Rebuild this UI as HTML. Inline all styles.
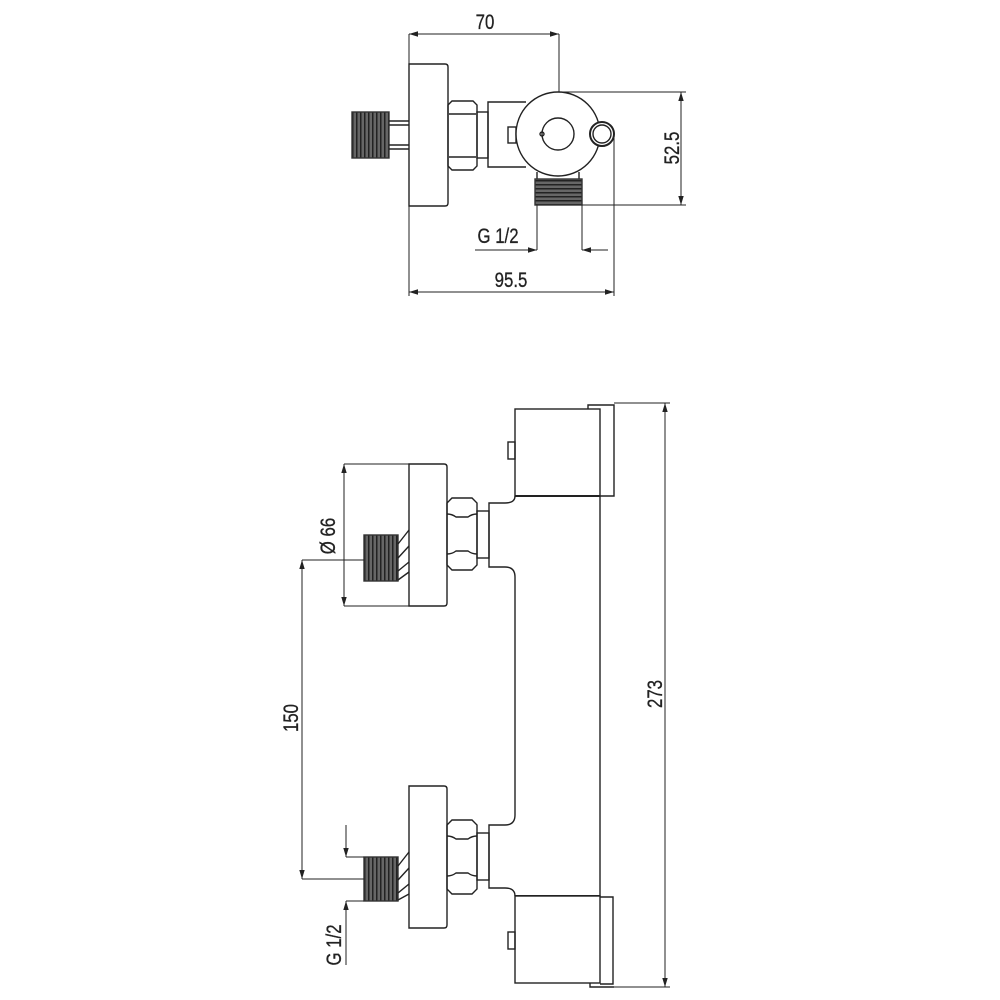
<!DOCTYPE html>
<html><head><meta charset="utf-8"><style>
html,body{margin:0;padding:0;background:#fff;}
svg{display:block;}
text{font-family:"Liberation Sans",sans-serif;font-size:21px;fill:#222;stroke:#222;stroke-width:0.3;}
</style></head><body>
<svg width="1000" height="1000" viewBox="0 0 1000 1000" xmlns="http://www.w3.org/2000/svg">
<defs>
<marker id="a" viewBox="0 0 10 10" refX="10" refY="5" markerWidth="9" markerHeight="9" orient="auto-start-reverse" markerUnits="userSpaceOnUse"><path d="M0,2 L10,5 L0,8 z" fill="#222"/></marker>
<pattern id="th" width="4" height="4" patternUnits="userSpaceOnUse"><rect width="4" height="4" fill="#666"/><rect width="1.5" height="4" fill="#222"/></pattern>
<pattern id="tv" width="4" height="4" patternUnits="userSpaceOnUse"><rect width="4" height="4" fill="#666"/><rect width="4" height="1.5" fill="#222"/></pattern>
</defs>
<g fill="none" stroke="#222" stroke-width="1.4">
<!-- TOP VIEW -->
<line x1="409" y1="34" x2="559" y2="34" marker-start="url(#a)" marker-end="url(#a)" stroke-width="1"/>
<line x1="409" y1="34" x2="409" y2="296" stroke-width="1"/>
<line x1="559" y1="34" x2="559" y2="134" stroke-width="1"/>
<path d="M409,64 H445 Q448,64 448,67 V203 Q448,206 445,206 H409 Z" fill="#fff"/>
<rect x="352" y="112" width="37" height="46" fill="url(#th)" stroke="#333"/>
<line x1="389" y1="121" x2="409" y2="121"/><line x1="389" y1="125" x2="409" y2="125"/>
<line x1="389" y1="145" x2="409" y2="145"/><line x1="389" y1="149" x2="409" y2="149"/>
<path d="M452,101 H473 L477,105 V166 L473,170 H452 L448,166 V105 Z"/>
<line x1="449" y1="114" x2="476" y2="114"/><line x1="449" y1="157" x2="476" y2="157"/>
<rect x="477" y="112" width="11" height="46"/>
<path d="M526,102 H488 V167 H526"/>
<rect x="508" y="127" width="8" height="16"/>
<circle cx="558" cy="134" r="42" fill="#fff"/>
<circle cx="558" cy="134" r="16"/>
<circle cx="542" cy="134" r="2"/>
<circle cx="602" cy="134" r="12" stroke-width="2" fill="#fff"/>
<circle cx="602" cy="134" r="9"/>
<line x1="537" y1="172" x2="537" y2="179"/><line x1="579" y1="172" x2="579" y2="179"/>
<rect x="535" y="179" width="47" height="26" fill="url(#tv)" stroke="#333"/>
<line x1="537" y1="205" x2="537" y2="250" stroke-width="1"/>
<line x1="582" y1="205" x2="582" y2="250" stroke-width="1"/>
<line x1="475" y1="250" x2="537" y2="250" marker-end="url(#a)" stroke-width="1"/>
<line x1="608" y1="250" x2="582" y2="250" marker-end="url(#a)" stroke-width="1"/>
<line x1="558" y1="92" x2="686" y2="92" stroke-width="1"/>
<line x1="582" y1="205" x2="686" y2="205" stroke-width="1"/>
<line x1="681" y1="92" x2="681" y2="205" marker-start="url(#a)" marker-end="url(#a)" stroke-width="1"/>
<line x1="614" y1="134" x2="614" y2="296" stroke-width="1"/>
<line x1="409" y1="292" x2="614" y2="292" marker-start="url(#a)" marker-end="url(#a)" stroke-width="1"/>

<!-- SIDE VIEW -->
<rect x="515" y="409" width="85" height="87" fill="#fff"/>
<path d="M588,409 V405 H614 V496 H600"/>
<rect x="508" y="442" width="7" height="17"/>
<path d="M515,496 Q515,503 505,503 H489 V567 H505 Q515,567 515,577 V815 Q515,825 505,825 H489 V888 H505 Q515,888 515,896"/>
<line x1="600" y1="496" x2="600" y2="897"/>
<line x1="515" y1="496" x2="600" y2="496" stroke-width="2"/>
<line x1="515" y1="896" x2="600" y2="896" stroke-width="2"/>
<rect x="515" y="896" width="85" height="87" fill="#fff"/>
<path d="M600,897 H613 V984 H600"/>
<path d="M590,983 V987 H614"/>
<rect x="508" y="932" width="7" height="17"/>
<path d="M409,464 H444 Q447,464 447,467 V603 Q447,606 444,606 H409 Z" fill="#fff"/>
<path d="M452,498 H472 L477,503 V565 L472,570 H452 L447,565 V503 Z"/>
<path d="M447,514 Q452,514 456,517 H468 Q472,514 477,514"/><path d="M447,554 Q452,554 456,551 H468 Q472,554 477,554"/>
<rect x="477" y="511" width="12" height="47"/>
<rect x="364" y="535" width="34" height="46" fill="url(#th)" stroke="#333"/>
<line x1="398" y1="544" x2="409" y2="530"/><line x1="398" y1="558" x2="409" y2="546"/>
<line x1="398" y1="571" x2="409" y2="562"/><line x1="398" y1="580" x2="409" y2="572"/>
<path d="M409,786 H444 Q447,786 447,789 V925 Q447,928 444,928 H409 Z" fill="#fff"/>
<path d="M452,820 H472 L477,825 V889 L472,894 H452 L447,889 V825 Z"/>
<path d="M447,836 Q452,836 456,839 H468 Q472,836 477,836"/><path d="M447,876 Q452,876 456,873 H468 Q472,876 477,876"/>
<rect x="477" y="833" width="12" height="47"/>
<rect x="364" y="857" width="34" height="44" fill="url(#th)" stroke="#333"/>
<line x1="398" y1="866" x2="409" y2="852"/><line x1="398" y1="880" x2="409" y2="868"/>
<line x1="398" y1="893" x2="409" y2="884"/><line x1="398" y1="900" x2="409" y2="894"/>
<line x1="344" y1="464" x2="409" y2="464" stroke-width="1"/>
<line x1="344" y1="606" x2="409" y2="606" stroke-width="1"/>
<line x1="344" y1="464" x2="344" y2="606" marker-start="url(#a)" marker-end="url(#a)" stroke-width="1"/>
<line x1="302" y1="560" x2="364" y2="560" stroke-width="1"/>
<line x1="302" y1="879" x2="364" y2="879" stroke-width="1"/>
<line x1="302" y1="560" x2="302" y2="879" marker-start="url(#a)" marker-end="url(#a)" stroke-width="1"/>
<line x1="346" y1="857" x2="364" y2="857" stroke-width="1"/>
<line x1="346" y1="901" x2="364" y2="901" stroke-width="1"/>
<line x1="346" y1="825" x2="346" y2="857" marker-end="url(#a)" stroke-width="1"/>
<line x1="346" y1="965" x2="346" y2="901" marker-end="url(#a)" stroke-width="1"/>
<line x1="614" y1="403" x2="670" y2="403" stroke-width="1"/>
<line x1="614" y1="987" x2="670" y2="987" stroke-width="1"/>
<line x1="665" y1="403" x2="665" y2="987" marker-start="url(#a)" marker-end="url(#a)" stroke-width="1"/>
</g>
<text transform="translate(485,29) scale(0.8,1)" text-anchor="middle">70</text>
<text transform="translate(498,243) scale(0.8,1)" text-anchor="middle">G 1/2</text>
<text transform="translate(511,287) scale(0.8,1)" text-anchor="middle">95.5</text>
<text transform="translate(679,148) rotate(-90) scale(0.8,1)" text-anchor="middle">52.5</text>
<text transform="translate(335,536) rotate(-90) scale(0.8,1)" text-anchor="middle">Ø 66</text>
<text transform="translate(298,718) rotate(-90) scale(0.8,1)" text-anchor="middle">150</text>
<text transform="translate(341,945) rotate(-90) scale(0.8,1)" text-anchor="middle">G 1/2</text>
<text transform="translate(662,694) rotate(-90) scale(0.8,1)" text-anchor="middle">273</text>
</svg>
</body></html>
